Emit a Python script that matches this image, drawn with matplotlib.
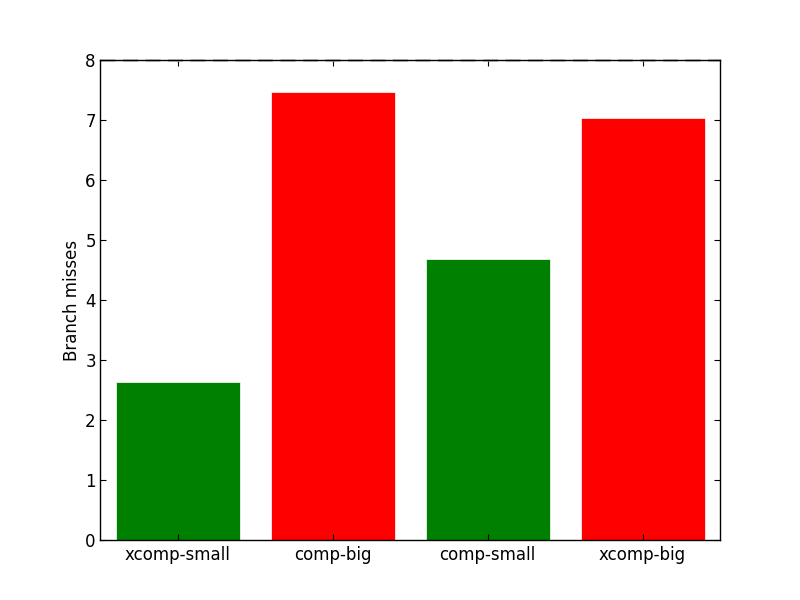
import matplotlib
matplotlib.use('Agg')
import matplotlib.pyplot as plt

# branch misses per benchmark
labels = ['xcomp-small', 'comp-big', 'comp-small', 'xcomp-big']
misses = [2.64, 7.47, 4.68, 7.04]
colors = ['green', 'red', 'green', 'red']

fig = plt.figure(figsize=(8, 6), dpi=100)
ax = fig.add_subplot(111)
fig.subplots_adjust(left=0.125, right=0.9, bottom=0.1, top=0.9)

pos = range(len(labels))
ax.bar(pos, misses, width=0.8, color=colors, edgecolor='white', linewidth=0.5)

ax.set_xlim(-0.5, 3.5)
ax.set_ylim(0, 8)
ax.set_xticks(list(pos))
ax.set_xticklabels(labels)
ax.set_ylabel('Branch misses', fontsize=12, labelpad=3)

ax.tick_params(direction='in', top=True, right=True, length=4, labelsize=12)
ax.tick_params(axis='y', pad=3)
ax.tick_params(axis='x', pad=4)
for s in ax.spines.values():
    s.set_linewidth(1.0)
    s.set_zorder(3)
# faint dashed shadow under the top frame line
ax.axhline(8, color='0.7', lw=1.8, ls=(0, (6, 3)), clip_on=False, zorder=2)

fig.savefig('out.png')
